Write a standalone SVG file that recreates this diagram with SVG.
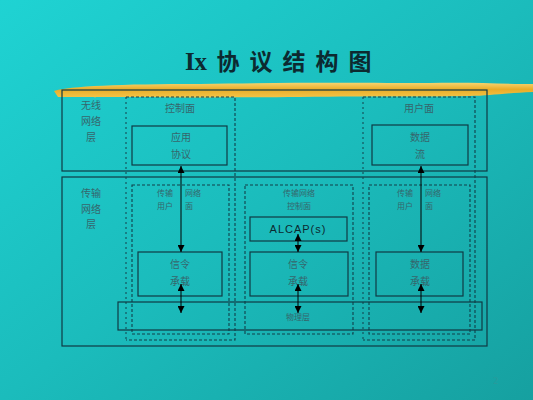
<svg xmlns="http://www.w3.org/2000/svg" width="533" height="400" viewBox="0 0 533 400">
<defs>
<linearGradient id="bg" x1="0" y1="0" x2="1" y2="1">
<stop offset="0" stop-color="#1fd3d3"/>
<stop offset="0.5" stop-color="#1bbcbc"/>
<stop offset="1" stop-color="#16a0a0"/>
</linearGradient>
<linearGradient id="brush" x1="0" y1="0" x2="0" y2="1">
<stop offset="0" stop-color="#f5d470"/>
<stop offset="0.45" stop-color="#e9ac28"/>
<stop offset="1" stop-color="#f2c448"/>
</linearGradient>
<marker id="ah" viewBox="0 0 10 10" refX="10" refY="5" markerWidth="7" markerHeight="7" markerUnits="userSpaceOnUse" orient="auto-start-reverse">
<path d="M0,0 L10,5 L0,10 z" fill="#000"/>
</marker>
<style>
.solid{fill:none;stroke:#0f3a44;stroke-width:1.2}
.dash{fill:none;stroke:#12404a;stroke-width:1.1;stroke-dasharray:3,2}
.dot{fill:none;stroke:#12404a;stroke-width:1;stroke-dasharray:2,3}
.lbl{font-family:"Noto Sans CJK SC","Liberation Serif",serif;fill:#36666c;font-size:10px;text-anchor:middle}
.sm{font-family:"Noto Sans CJK SC","Liberation Serif",serif;fill:#36666c;font-size:8px;text-anchor:middle}
.tt{font-family:"Noto Sans CJK SC",sans-serif;font-weight:bold;font-size:23px;fill:#0c2a30;text-anchor:middle}
.ar{stroke:#000;stroke-width:1;fill:none;marker-start:url(#ah);marker-end:url(#ah)}
</style>
</defs>
<rect x="0" y="0" width="533" height="400" fill="url(#bg)"/>
<g id="title">
<text x="196" y="70" font-family="Liberation Serif,serif" font-weight="bold" font-size="25" fill="#0c2a30" text-anchor="middle">Ix</text>
<text class="tt" x="228" y="70">协</text>
<text class="tt" x="261" y="70">议</text>
<text class="tt" x="294" y="70">结</text>
<text class="tt" x="327" y="70">构</text>
<text class="tt" x="360" y="70">图</text>
</g>
<path d="M54,91 C70,86 120,84 200,84 C300,82 380,83 430,83 C470,82 505,84 533,84 L533,92 C505,93 490,96 470,96 C420,97 380,96 300,97 C200,98 130,97 58,97 Z" fill="url(#brush)"/>
<text x="493" y="384" font-family="Liberation Serif,serif" font-size="10" fill="#2a9a9a">2</text>

<g id="wireless-layer">
<rect class="solid" x="62" y="90" width="425" height="81"/>
<text class="lbl" x="91" y="109">无线</text>
<text class="lbl" x="91" y="125">网络</text>
<text class="lbl" x="91" y="141">层</text>
</g>
<g id="transport-layer">
<rect class="solid" x="62" y="177" width="425" height="169"/>
<text class="lbl" x="91" y="197">传输</text>
<text class="lbl" x="91" y="213">网络</text>
<text class="lbl" x="91" y="228">层</text>
</g>
<g id="control-plane">
<path class="dash" d="M126,97 H235 V340 H126"/>
<path class="dot" d="M126,97 V340"/>
<text class="lbl" x="180" y="112">控制面</text>
</g>
<g id="user-plane">
<path class="dash" d="M363,97 H475 V340 H363"/>
<path class="dot" d="M363,97 V340"/>
<text class="lbl" x="419" y="112">用户面</text>
</g>
<g id="app-protocol">
<rect class="solid" x="132" y="126" width="95" height="39"/>
<text class="lbl" x="181" y="141">应用</text>
<text class="lbl" x="181" y="158">协议</text>
</g>
<g id="data-flow">
<rect class="solid" x="372" y="125" width="96" height="40"/>
<text class="lbl" x="420" y="141">数据</text>
<text class="lbl" x="420" y="158">流</text>
</g>
<g id="tn-user-plane-left">
<rect class="dash" x="132" y="185" width="97" height="149"/>
<text class="sm" x="165" y="196">传输</text>
<text class="sm" x="193" y="196">网络</text>
<text class="sm" x="165" y="209">用户</text>
<text class="sm" x="189" y="209">面</text>
</g>
<g id="tn-control-plane">
<rect class="dash" x="245" y="185" width="108" height="149"/>
<text class="sm" x="299" y="196">传输网络</text>
<text class="sm" x="299" y="209">控制面</text>
</g>
<g id="tn-user-plane-right">
<rect class="dash" x="369" y="185" width="101" height="149"/>
<text class="sm" x="405" y="196">传输</text>
<text class="sm" x="433" y="196">网络</text>
<text class="sm" x="405" y="209">用户</text>
<text class="sm" x="429" y="209">面</text>
</g>
<g id="alcap">
<rect class="solid" x="250" y="217" width="97" height="24"/>
<text x="298" y="233" font-family="Liberation Sans,Arial,sans-serif" font-size="11" fill="#0c2a30" text-anchor="middle" letter-spacing="1">ALCAP(s)</text>
</g>
<g id="sig-bearer-1">
<rect class="solid" x="138" y="252" width="84" height="44"/>
<text class="lbl" x="180" y="268">信令</text>
<text class="lbl" x="180" y="285">承载</text>
</g>
<g id="sig-bearer-2">
<rect class="solid" x="250" y="252" width="98" height="44"/>
<text class="lbl" x="298" y="268">信令</text>
<text class="lbl" x="298" y="285">承载</text>
</g>
<g id="data-bearer">
<rect class="solid" x="376" y="252" width="87" height="44"/>
<text class="lbl" x="420" y="268">数据</text>
<text class="lbl" x="420" y="285">承载</text>
</g>
<g id="physical-layer">
<rect class="solid" x="118" y="302" width="364" height="28"/>
<text class="sm" x="298" y="320">物理层</text>
</g>
<g id="connectors">
<line class="ar" x1="181" y1="166" x2="181" y2="252"/>
<line class="ar" x1="421" y1="166" x2="421" y2="252"/>
<line class="ar" x1="298" y1="234" x2="298" y2="252"/>
<line class="ar" x1="181" y1="284" x2="181" y2="313"/>
<line class="ar" x1="298" y1="284" x2="298" y2="313"/>
<line class="ar" x1="421" y1="284" x2="421" y2="313"/>
</g>
</svg>
